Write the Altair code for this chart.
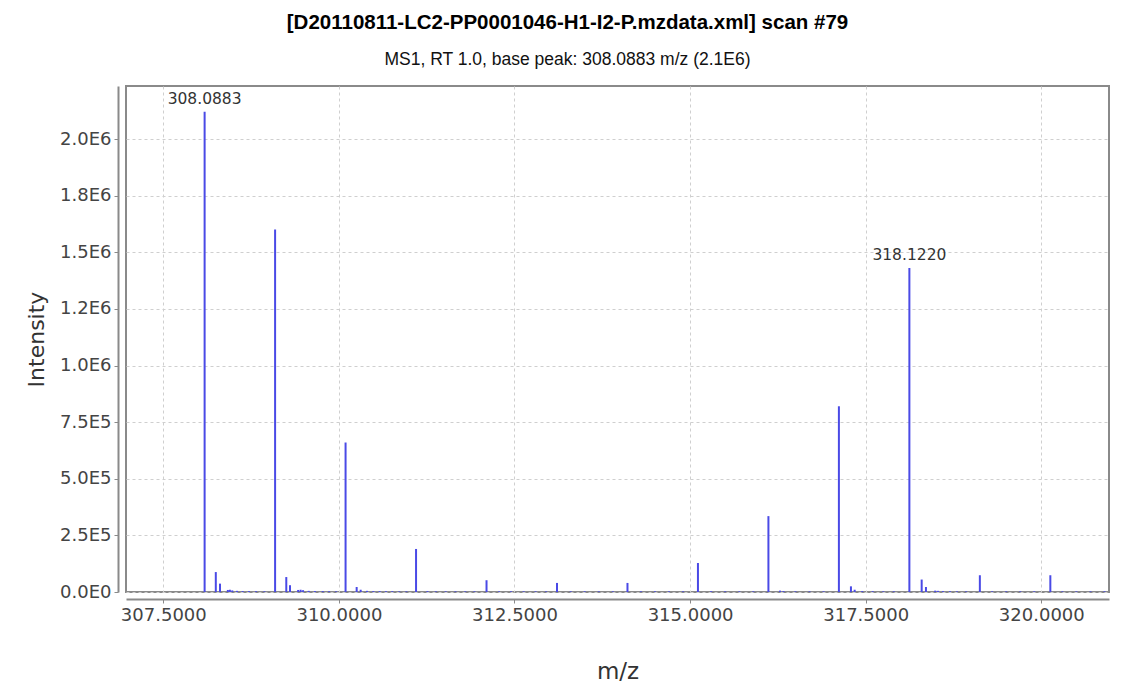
import altair as alt
import pandas as pd

# ---- data ----
peak_mz = [
    308.0883, 308.2475, 308.3069, 308.4190, 308.4480, 308.4820, 308.5500, 308.6300, 308.7200, 308.8200, 308.9400,
    309.0917, 309.2510, 309.3040, 309.4200, 309.4550, 309.4900, 309.5700, 309.6600, 309.7700, 309.8600, 309.9600,
    310.0950, 310.2530, 310.3100, 310.4000, 310.4900, 310.5800, 310.6700, 310.7600, 310.8600, 310.9600,
    311.0984, 311.2600, 311.3800, 311.5200, 311.6600, 311.8000, 311.9300,
    312.1018, 312.2800, 312.4500, 312.6300, 312.8000, 312.9500,
    313.1051, 313.3000, 313.5000, 313.7000, 313.9000,
    314.1085, 314.3000, 314.5000, 314.7000, 314.9000,
    315.1119, 315.3000, 315.5000, 315.7000, 315.9000,
    316.1152, 316.2800, 316.3300, 316.5000, 316.7000, 316.9000,
    317.1186, 317.2900, 317.3430, 317.4500, 317.6000, 317.7500, 317.9000,
    318.1220, 318.2970, 318.3580, 318.4900, 318.5300, 318.6000, 318.7000, 318.8000, 318.9300,
    319.1254, 319.3000, 319.5000, 319.7000, 319.9000,
    320.1288, 320.3000, 320.5000, 320.7000, 320.9000,
]
peak_int = [
    2120000, 88000, 37000, 9000, 10000, 7000, 5000, 4000, 4000, 3500, 3000,
    1600000, 66000, 30000, 9000, 10000, 8000, 5000, 4000, 4000, 3500, 3000,
    660000, 22000, 10000, 5000, 4000, 4000, 3500, 3500, 3000, 3000,
    190000, 4000, 3000, 3000, 3000, 3000, 3000,
    52000, 3000, 3000, 3000, 3000, 3000,
    40000, 3000, 3000, 3000, 3000,
    40000, 3000, 3000, 3000, 3000,
    128000, 3500, 3000, 3000, 3000,
    335000, 6000, 4000, 3000, 3000, 3000,
    820000, 25000, 10000, 4000, 3500, 3000, 3000,
    1430000, 55000, 22000, 6000, 5000, 4000, 3500, 3000, 3000,
    74000, 3000, 3000, 3000, 3000,
    74000, 3000, 3000, 3000, 3000,
]

label_mz = [308.0883, 318.1220]
label_int = [2120000, 1430000]
label_text = ["308.0883", "318.1220"]

x_ticks = [307.5, 310.0, 312.5, 315.0, 317.5, 320.0]
y_ticks = [0, 250000, 500000, 750000, 1000000, 1250000, 1500000, 1750000, 2000000]
y_tick_labels = ["0.0E0", "2.5E5", "5.0E5", "7.5E5", "1.0E6", "1.2E6", "1.5E6", "1.8E6", "2.0E6"]

title_text = "[D20110811-LC2-PP0001046-H1-I2-P.mzdata.xml] scan #79"
subtitle_text = "MS1, RT 1.0, base peak: 308.0883 m/z (2.1E6)"

peaks = pd.DataFrame({"mz": peak_mz, "intensity": peak_int})
labels = pd.DataFrame({"mz": label_mz, "intensity": label_int, "text": label_text})

y_label_expr = "[" + ",".join("'%s'" % s for s in y_tick_labels) + "][round(datum.value / 250000)]"

FONT = "DejaVu Sans"
x_scale = alt.Scale(domain=[306.969, 320.964], nice=False, zero=False)
y_scale = alt.Scale(domain=[0, 2234000], nice=False)

x_axis = alt.Axis(
    title="m/z", values=x_ticks, format=".4f", grid=True,
    gridColor="#cfcfcf", gridDash=[3, 3], gridWidth=1,
    domainColor="#8a8a8a", domainWidth=2, offset=7,
    tickColor="#8a8a8a", tickSize=4, tickWidth=1,
    labelFont=FONT, labelFontSize=18, labelColor="#444444", labelPadding=3,
    titleFont=FONT, titleFontSize=23, titleFontWeight="normal", titleColor="#333333",
    titlePadding=36, labelFlush=False,
)
y_axis = alt.Axis(
    title="Intensity", values=y_ticks, labelExpr=y_label_expr, grid=True,
    gridColor="#cfcfcf", gridDash=[3, 3], gridWidth=1,
    domainColor="#8a8a8a", domainWidth=2, offset=8,
    tickColor="#8a8a8a", tickSize=4, tickWidth=1,
    labelFont=FONT, labelFontSize=18, labelColor="#444444", labelPadding=3,
    titleFont=FONT, titleFontSize=22, titleFontWeight="normal", titleColor="#333333",
    titlePadding=11, labelFlush=False,
)

bars = alt.Chart(peaks).mark_rule(color="#4a4ae6", strokeWidth=2).encode(
    x=alt.X("mz:Q", scale=x_scale, axis=x_axis),
    y=alt.Y("intensity:Q", scale=y_scale, axis=y_axis),
    y2=alt.datum(0),
)

texts = alt.Chart(labels).mark_text(
    font=FONT, fontSize=15.5, color="#333333", baseline="bottom", align="center", dy=-5
).encode(
    x=alt.X("mz:Q", scale=x_scale),
    y=alt.Y("intensity:Q", scale=y_scale),
    text="text:N",
)

chart = alt.layer(bars, texts).properties(
    width=983,
    height=506,
    title=alt.TitleParams(
        text=title_text,
        subtitle=subtitle_text,
        font="Liberation Sans", fontSize=20.5, fontWeight="bold", color="#000000",
        subtitleFont="Liberation Sans", subtitleFontSize=17.5, subtitleColor="#111111",
        subtitlePadding=17, anchor="middle", frame="group", dx=-50, offset=18,
    ),
    autosize=alt.AutoSizeParams(type="none"),
    padding={"left": 118, "top": 78, "right": 18, "bottom": 92},
    background="white",
).configure_view(
    stroke="#8a8a8a", strokeWidth=2
)

chart.save("out.html", embed_options={"renderer": "svg", "actions": False})
